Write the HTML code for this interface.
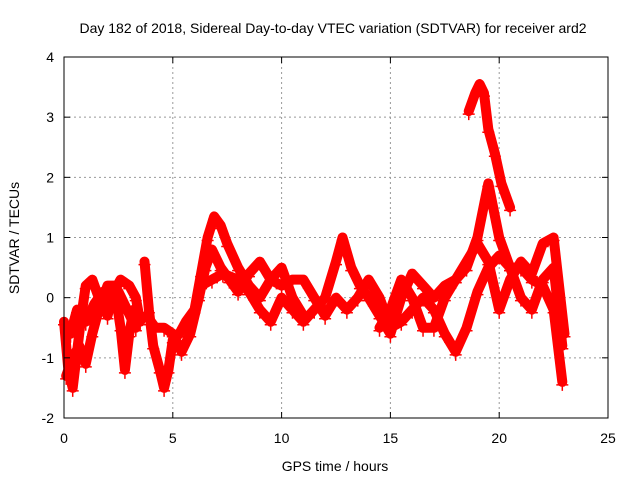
<!DOCTYPE html>
<html><head><meta charset="utf-8"><style>
body{margin:0;background:#fff}
svg{display:block;font-family:"Liberation Sans",sans-serif}
</style></head><body>
<svg id="chart" width="640" height="480" viewBox="0 0 640 480">
<rect width="640" height="480" fill="#fff"/>
<text x="333" y="33" font-size="14" text-anchor="middle">Day 182 of 2018, Sidereal Day-to-day VTEC variation (SDTVAR) for receiver ard2</text>
<text x="335" y="471" font-size="14" text-anchor="middle">GPS time / hours</text>
<text transform="translate(19,238) rotate(-90)" font-size="14" text-anchor="middle">SDTVAR / TECUs</text>
<g id="grid"></g><g id="series"></g>
<rect x="64" y="57" width="544" height="361" fill="none" stroke="#000" stroke-width="1"/>
<g id="ticks"></g>
</svg>
<script>
const xTicks=[0,5,10,15,20,25];
const yTicks=[-2,-1,0,1,2,3,4];
const tracks=[
[[0,-0.4],[0.2,-1.2],[0.4,-1.5],[0.6,-0.9],[0.8,-0.3],[1.0,0.2],[1.3,0.3],[1.6,0.0],[2.0,-0.3],[2.3,0.1],[2.6,0.3],[3.0,0.2],[3.3,0.0],[3.5,-0.4]],
[[0.1,-1.3],[0.4,-1.0],[0.7,-0.8],[1.0,-1.1],[1.3,-0.6],[1.6,-0.2],[2.0,0.2],[2.3,0.2],[2.6,-0.5],[2.8,-1.2],[3.0,-0.6],[3.2,-0.2]],
[[0.3,-0.6],[0.6,-0.2],[1.0,-0.4],[1.4,-0.1],[1.8,0.1],[2.2,-0.1],[2.5,0.1],[2.9,-0.2],[3.3,-0.5]],
[[3.7,0.6],[3.9,-0.2],[4.1,-0.8],[4.4,-1.2],[4.6,-1.5],[4.8,-1.2],[5.0,-0.7],[5.3,-0.6],[5.6,-0.4],[6.0,-0.2],[6.3,0.4],[6.6,1.0],[6.9,1.35],[7.2,1.2],[7.5,0.9],[8.0,0.5],[8.5,0.2],[9.0,0.0],[9.5,0.3],[10,0.5],[10.5,0.0],[11,-0.3]],
[[3.8,-0.3],[4.2,-0.5],[4.6,-0.5],[5.0,-0.6],[5.4,-0.9],[5.8,-0.6],[6.2,0.0],[6.5,0.5],[6.8,0.8],[7.2,0.5],[7.6,0.3],[8.0,0.1],[8.5,0.4],[9.0,0.6],[9.5,0.3],[10,0.2],[10.5,0.3],[11,0.3],[11.5,0.0],[12,-0.3],[12.5,0.0],[13,-0.2],[13.5,0.0],[14,0.3],[14.5,0.0],[15,-0.5],[15.5,-0.4],[16,-0.2],[16.5,0.0],[17,-0.2],[17.5,-0.6],[18,-0.9],[18.5,-0.5],[19,0.1],[19.5,0.5],[20,0.7],[20.5,0.5],[21,0.5],[21.5,0.3],[22,0.2],[22.5,-0.2],[22.9,-1.4]],
[[6.3,0.2],[6.8,0.3],[7.3,0.4],[8,0.3],[8.5,0.1],[9,-0.2],[9.5,-0.4],[10,0.0],[10.5,-0.2],[11,-0.4],[11.5,-0.2],[12,0.0],[12.5,0.6],[12.8,1.0],[13.2,0.5],[13.6,0.2],[14,0.0],[14.5,-0.3],[15,-0.6],[15.5,0.0],[16,0.4],[16.5,0.2],[17,0.0],[17.5,0.2],[18,0.3],[18.5,0.5],[19,1.0],[19.5,1.9],[20,1.0],[20.5,0.5],[21,0.0],[21.5,-0.2],[22,0.3],[22.5,0.5],[22.9,-0.8]],
[[14.5,-0.5],[15,-0.2],[15.5,0.3],[16,0.0],[16.5,-0.5],[17,-0.5],[17.5,0.0],[18,0.3],[18.5,0.6],[19,0.9],[19.5,0.6],[20,-0.2],[20.5,0.3],[21,0.6],[21.5,0.4],[22,0.9],[22.5,1.0],[23,-0.6]],
[[18.6,3.1],[18.9,3.4],[19.1,3.55],[19.3,3.4],[19.5,2.8],[19.8,2.4],[20.1,1.9],[20.5,1.5]]
];
const NS="http://www.w3.org/2000/svg";
const X=v=>64+v*(544/25), Y=v=>418-(v+2)*(361/6);
const grid=document.getElementById('grid'),ticks=document.getElementById('ticks'),ser=document.getElementById('series');
function mk(tag,attrs,parent){const e=document.createElementNS(NS,tag);for(const k in attrs)e.setAttribute(k,attrs[k]);parent.appendChild(e);return e;}
xTicks.forEach(t=>{
 const x=X(t);
 if(t>0&&t<25){const g=mk('line',{x1:x,x2:x,y1:57,y2:418,stroke:'#999','stroke-dasharray':'2,3'},grid);
 
 }
 mk('line',{x1:x,x2:x,y1:418,y2:412,stroke:'#000'},ticks);mk('line',{x1:x,x2:x,y1:57,y2:63,stroke:'#000'},ticks);
 const l=mk('text',{x:x,y:443,'font-size':14,'text-anchor':'middle'},ticks);l.textContent=t;
 
 
});
yTicks.forEach(t=>{
 const y=Y(t);
 if(t>-2&&t<4){const g=mk('line',{x1:64,x2:608,y1:y,y2:y,stroke:'#999','stroke-dasharray':'2,3'},grid);
 
 }
 mk('line',{x1:64,x2:70,y1:y,y2:y,stroke:'#000'},ticks);mk('line',{x1:608,x2:602,y1:y,y2:y,stroke:'#000'},ticks);
 const l=mk('text',{x:54,y:y+5,'font-size':14,'text-anchor':'end'},ticks);l.textContent=t;
 
 
});
tracks.forEach((tr,i)=>{
 const p=mk('polyline',{points:tr.map(d=>X(d[0])+','+Y(d[1])).join(' '),fill:'none',stroke:'#f00','stroke-width':10,'stroke-linejoin':'round','stroke-linecap':'round'},ser);
 
 
 tr.forEach(d=>{const x=X(d[0]),y=Y(d[1]);
  const m=mk('path',{d:`M${x-6},${y+3}h12M${x},${y-3}v12`,stroke:'#f00','stroke-width':1.5},ser);
  
  });
});
</script>
</body></html>
